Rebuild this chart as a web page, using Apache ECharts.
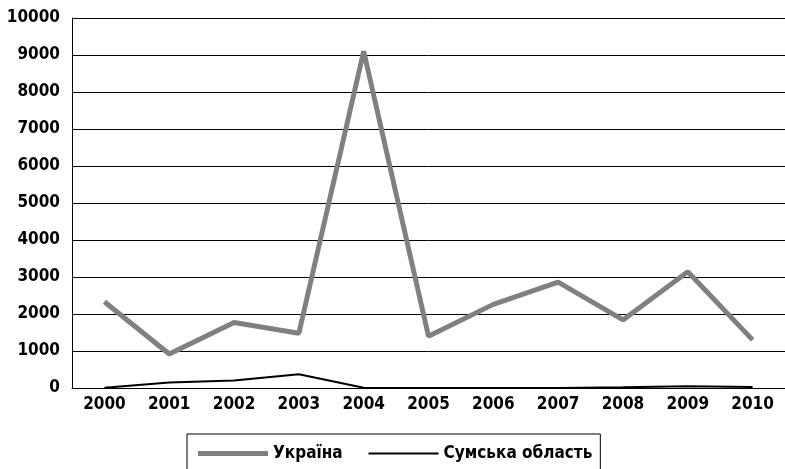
<!DOCTYPE html>
<html><head><meta charset="utf-8">
<script src="https://cdn.jsdelivr.net/npm/echarts@6/dist/echarts.min.js"></script>
<style>html,body{margin:0;padding:0;background:#fff}#c{width:785px;height:469px}</style>
</head><body><div id="c"></div>
<script>
const years = ['2000','2001','2002','2003','2004','2005','2006','2007','2008','2009','2010'];
const ukraine = [2330, 920, 1770, 1480, 9100, 1400, 2260, 2860, 1840, 3140, 1300];
const sumy = [10, 150, 200, 370, 5, 0, 0, 0, 20, 50, 30];
const seriesNames = ['Україна', 'Сумська область'];
const FONT = '"Liberation Sans Narrow","DejaVu Sans Condensed",sans-serif';
const chart = echarts.init(document.getElementById('c'), null, {renderer:'canvas'});
chart.setOption({
  animation:false,
  grid:{left:72, right:-2, top:18, bottom:81, containLabel:false},
  legend:{
    top:434, left:187,
    padding:[11,8,20,11], itemGap:26, itemWidth:70, itemHeight:12,
    borderColor:'#000', borderWidth:1,
    textStyle:{fontFamily:FONT, fontWeight:'bold', fontSize:17, color:'#000'},
    data:[
      {name:seriesNames[0], icon:'path://M0,0L70,0L70,5L0,5Z', itemStyle:{color:'#808080'}},
      {name:seriesNames[1], icon:'path://M0,0L70,0L70,2L0,2Z', itemStyle:{color:'#000'}}
    ]
  },
  xAxis:{
    type:'category', data:years, boundaryGap:true,
    axisLine:{lineStyle:{color:'#000', width:1}},
    axisTick:{inside:true, length:9, lineStyle:{color:'#000'}},
    axisLabel:{fontFamily:FONT, fontWeight:'bold', fontSize:17, color:'#000', margin:8}
  },
  yAxis:{
    type:'value', min:0, max:10000, interval:1000,
    axisLine:{show:true, lineStyle:{color:'#000', width:1}},
    axisTick:{show:false},
    splitLine:{lineStyle:{color:'#000', width:1}},
    axisLabel:{fontFamily:FONT, fontWeight:'bold', fontSize:17, color:'#000', margin:12,
      formatter:function(v){return String(v);}}
  },
  series:[
    {name:seriesNames[0], type:'line', data:ukraine, symbol:'none',
     lineStyle:{color:'#808080', width:5}, itemStyle:{color:'#808080'}},
    {name:seriesNames[1], type:'line', data:sumy, symbol:'none',
     lineStyle:{color:'#000', width:2}, itemStyle:{color:'#000'}}
  ]
});
</script></body></html>
